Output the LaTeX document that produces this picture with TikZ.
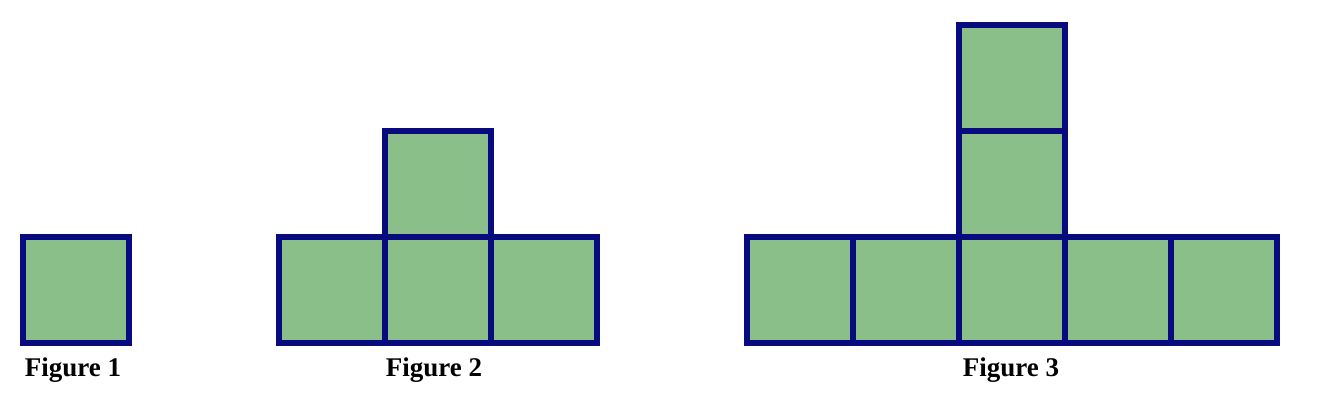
\documentclass[tikz,border=0pt]{standalone}
\usepackage{fontspec}
\setmainfont{Liberation Serif}
\definecolor{tilegreen}{RGB}{138,191,138}
\definecolor{tileblue}{RGB}{8,10,128}
\tikzset{
  tile/.style={fill=tilegreen,draw=tileblue,line width=2.85pt},
  figlabel/.style={anchor=base,font=\fontsize{13.5}{16}\selectfont\bfseries}
}
\begin{document}
\begin{tikzpicture}[x=0.5pt,y=0.5pt]
	\useasboundingbox (0,0) rectangle (1336,408);
	% Figure 1
	\draw[tile] (23,65) rectangle ++(106,106);
	\node[figlabel] (lab1) at (73,32) {Figure 1};
	% Figure 2
	\foreach \x in {279,385,491}
		\draw[tile] (\x,65) rectangle ++(106,106);
	\draw[tile] (385,171) rectangle ++(106,106);
	\node[figlabel] (lab2) at (434,32) {Figure 2};
	% Figure 3
	\foreach \x in {747,853,959,1065,1171}
		\draw[tile] (\x,65) rectangle ++(106,106);
	\foreach \y in {171,277}
		\draw[tile] (959,\y) rectangle ++(106,106);
	\node[figlabel] (lab3) at (1011,32) {Figure 3};
\end{tikzpicture}
\end{document}
